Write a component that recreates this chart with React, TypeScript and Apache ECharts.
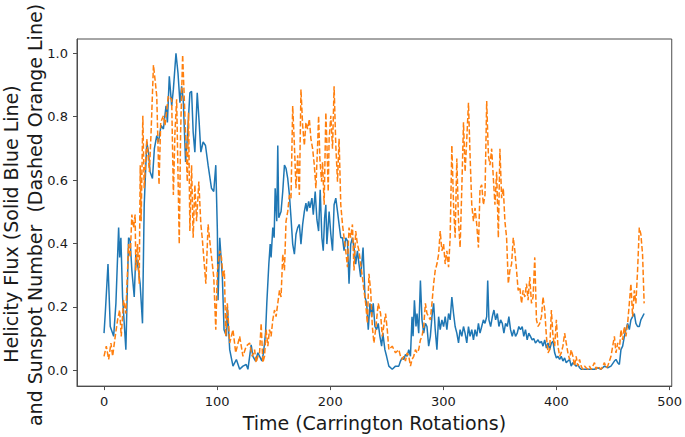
import React, { useEffect, useRef } from "react";
import * as echarts from "echarts";

const xTicks = [0, 100, 200, 300, 400, 500];
const yTicks = [0, 0.2, 0.4, 0.6, 0.8, 1.0];

// Helicity flux (solid blue line): [Carrington rotation, normalized value]
const helicityFlux: [number, number][] = [
  [0,0.117],[1.1,0.18],[3.5,0.335],[5.5,0.138],[8.5,0.107],[10.5,0.211],[12.9,0.45],[13.8,0.356],[14.9,0.418],[16.4,0.231],
  [19.3,0.065],[21.7,0.418],[23.1,0.41],[24.6,0.315],[26.7,0.231],[28.1,0.366],[30.5,0.315],[31.9,0.273],[34.0,0.148],[35.5,0.52],
  [37.8,0.72],[39.3,0.688],[40.7,0.626],[42.8,0.605],[44.5,0.699],[46.6,0.74],[48.1,0.72],[50.4,0.772],[52.5,0.761],[54.8,0.834],
  [56.0,0.782],[57.7,0.927],[59.8,0.834],[61.3,0.886],[63.6,1.0],[65.4,0.937],[67.1,0.844],[68.6,0.896],[70.0,0.855],[72.1,0.657],
  [73.6,0.73],[75.9,0.875],[77.4,0.88],[78.8,0.751],[80.3,0.688],[82.4,0.875],[84.1,0.782],[85.6,0.688],[87.6,0.72],[89.7,0.709],
  [92.0,0.647],[95.0,0.574],[97.0,0.564],[98.8,0.647],[100.2,0.439],[100.8,0.221],[102.3,0.418],[104.6,0.294],[106.1,0.128],[108.2,0.107],
  [109.0,0.2],[111.1,0.065],[114.0,0.013],[117.0,0.034],[119.9,0.003],
  [122.8,0.013],[125.7,0.018],[127.2,0.003],[130.1,0.08],[131.6,0.044],[134.0,0.029],[136.0,0.055],[138.1,0.04],[139.5,0.029],[141.0,0.055],
  [142.8,0.117],[143.9,0.211],[145.7,0.335],[146.9,0.398],[147.7,0.356],[149.2,0.45],[150.4,0.418],[151.3,0.574],[152.7,0.47],[153.6,0.709],
  [154.5,0.481],[156.5,0.501],[158.0,0.564],[159.5,0.647],[160.9,0.637],[162.4,0.605],[163.9,0.553],[165.3,0.481],[166.8,0.398],[168.3,0.366],
  [169.7,0.429],[171.2,0.45],[172.7,0.46],[174.1,0.398],[175.6,0.46],[177.1,0.501],[178.5,0.527],[179.4,0.501],[180.9,0.533],[182.0,0.512],
  [183.8,0.543],[185.0,0.491],[186.7,0.564],[188.2,0.475],[189.7,0.439],[191.1,0.569],[192.6,0.418],[193.8,0.377],[195.0,0.481],[196.1,0.522],
  [197.0,0.398],[198.2,0.46],[199.0,0.501],[200.5,0.429],[202.0,0.377],[203.4,0.522],[204.9,0.543],[206.4,0.501],[207.8,0.46],[209.3,0.418],
  [210.8,0.418],[212.2,0.377],[213.7,0.418],[215.2,0.408],[216.6,0.273],[218.1,0.398],[219.6,0.418],[221.0,0.387],[222.5,0.335],[224.0,0.377],
  [225.4,0.335],[226.9,0.294],[229.0,0.387],[230.7,0.231],[232.2,0.211],[233.6,0.128],[235.1,0.211],[236.6,0.169],[238.0,0.211],[239.5,0.138],
  [241.0,0.128],[242.4,0.148],[243.9,0.107],[245.4,0.076],[246.5,0.117],[248.3,0.065],[249.8,0.044],[251.8,0.013],[254.8,0.003],[257.7,0.013],
  [260.6,0.013],[262.1,0.029],[263.5,0.039],[265.0,0.034],[266.5,0.05],[267.9,0.044],[269.4,0.065],[270.9,0.044],[272.3,0.169],[273.2,0.107],
  [274.4,0.221],[275.8,0.138],[276.7,0.179],[278.2,0.117],[279.7,0.283],[281.1,0.159],[282.6,0.117],[284.1,0.148],[285.5,0.138],[287.0,0.076],
  [288.5,0.107],[289.9,0.169],[291.4,0.211],[292.8,0.128],[294.3,0.065],[295.8,0.169],[297.2,0.128],[298.7,0.159],[300.2,0.138],[301.6,0.169],
  [303.1,0.128],[304.6,0.179],[306.0,0.159],[307.5,0.231],[309.0,0.179],[310.4,0.138],[311.9,0.117],[313.4,0.086],[314.8,0.128],[316.3,0.107],
  [317.8,0.138],[319.2,0.117],[320.7,0.086],[322.2,0.138],[323.6,0.107],[325.1,0.128],[326.6,0.096],[328.0,0.128],[329.5,0.107],[331.0,0.148],
  [332.4,0.117],[333.9,0.138],[335.4,0.159],[336.8,0.148],[338.3,0.169],[339.2,0.283],[340.3,0.159],[341.8,0.138],[343.3,0.169],[344.7,0.19],
  [346.2,0.159],[347.7,0.179],[349.1,0.138],[350.6,0.159],[352.1,0.148],[353.5,0.117],[355.0,0.148],[356.5,0.138],[357.9,0.169],[359.4,0.128],
  [360.9,0.107],[362.3,0.128],[363.8,0.107],[365.3,0.117],[366.7,0.138],[368.2,0.128],[369.7,0.138],[371.1,0.107],[372.6,0.128],[374.1,0.096],
  [375.5,0.117],[377.0,0.107],[378.5,0.096],[379.9,0.1],[381.4,0.086],[383.7,0.096],
  [385.2,0.086],[386.7,0.091],[388.1,0.076],[389.6,0.096],[391.1,0.07],[392.5,0.086],[394.0,0.065],[395.5,0.086],[396.9,0.091],[398.4,0.055],
  [399.9,0.039],[401.3,0.044],[402.8,0.034],[404.2,0.044],[405.7,0.029],[407.2,0.039],[408.6,0.024],[410.1,0.029],[411.6,0.034],[413.0,0.013],
  [414.5,0.024],[416.0,0.018],[417.4,0.013],[418.9,0.018],[420.4,0.008],[421.8,0.003],[424.8,0.003],[427.7,0.003],[430.6,0.003],[433.6,0.003],
  [436.5,0.008],[439.4,0.003],[442.4,0.013],[445.3,0.008],[448.2,0.013],[451.2,0.029],[452.6,0.034],[454.1,0.024],[455.6,0.018],[457.0,0.065],
  [458.5,0.076],[460.0,0.107],[461.4,0.128],[462.9,0.148],[464.4,0.128],[465.8,0.159],[467.3,0.169],[468.8,0.179],[470.2,0.148],[471.7,0.138],
  [473.2,0.138],[474.6,0.159],[476.1,0.169],[477.5,0.179]
];

// Sunspot number (dashed orange line): [Carrington rotation, normalized value]
const sunspotNumber: [number, number][] = [
  [0,0.044],[2.0,0.076],[4.1,0.034],[6.1,0.086],[7.6,0.044],[9.9,0.107],[12.0,0.159],[13.8,0.19],[15.2,0.107],[17.3,0.221],
  [19.3,0.179],[21.7,0.398],[23.1,0.356],[24.6,0.491],[26.1,0.45],[27.5,0.491],[28.1,0.315],[29.6,0.398],[31.1,0.273],[32.0,0.647],
  [32.8,0.47],[34.3,0.803],[35.5,0.574],[37.8,0.73],[40.1,0.626],[41.6,0.751],[43.7,0.963],[45.1,0.917],[46.6,0.865],[48.6,0.585],
  [50.1,0.782],[52.5,0.803],[53.9,0.772],[56.8,0.865],[59.8,0.855],[61.3,0.553],[62.7,0.751],[64.2,0.855],[66.5,0.398],[67.7,0.751],
  [69.5,0.995],[71.5,0.803],[73.6,0.595],[74.7,0.813],[75.9,0.439],[77.4,0.647],[78.8,0.418],[80.3,0.585],[81.8,0.47],[83.8,0.595],
  [85.6,0.46],[86.8,0.418],[90.0,0.273],[92.0,0.46],[94.4,0.377],[97.0,0.294],[98.8,0.128],[100.2,0.315],[102.3,0.377],[103.8,0.356],
  [105.2,0.294],[106.4,0.315],[107.6,0.107],[109.0,0.211],[111.1,0.086],[114.0,0.128],[116.4,0.055],[119.9,0.107],[122.8,0.044],[125.7,0.076],
  [128.7,0.086],[131.0,0.044],[133.1,0.065],[134.5,0.024],[136.0,0.044],[137.5,0.055],[138.9,0.148],[140.4,0.024],[141.9,0.044],[143.3,0.128],
  [144.8,0.076],[146.3,0.128],[147.7,0.107],[149.2,0.159],[150.7,0.19],[152.1,0.169],[153.6,0.211],[155.1,0.252],[156.5,0.231],[158.0,0.366],
  [159.5,0.315],[160.9,0.47],[162.4,0.501],[163.9,0.553],[165.3,0.543],[166.8,0.834],[168.3,0.709],[169.7,0.574],[171.2,0.678],[172.7,0.553],
  [174.1,0.886],[175.6,0.772],[177.1,0.709],[178.5,0.782],[180.0,0.761],[181.5,0.792],[182.9,0.73],[184.4,0.699],[185.9,0.647],[187.3,0.574],
  [188.8,0.709],[189.7,0.803],[190.8,0.668],[192.3,0.595],[193.2,0.657],[194.6,0.522],[196.1,0.813],[197.0,0.72],[198.2,0.564],[199.0,0.73],
  [200.5,0.803],[202.0,0.699],[203.4,0.896],[204.9,0.709],[206.4,0.595],[207.8,0.73],[209.3,0.522],[210.8,0.46],[212.2,0.418],[213.7,0.377],
  [215.2,0.325],[216.6,0.45],[218.1,0.418],[219.6,0.46],[221.0,0.315],[222.5,0.439],[224.0,0.398],[225.4,0.377],[226.9,0.335],[228.4,0.294],
  [229.8,0.252],[231.3,0.211],[232.8,0.148],[234.2,0.304],[235.7,0.252],[237.2,0.138],[238.6,0.086],[240.1,0.128],[242.4,0.211],[244.5,0.179],
  [246.0,0.107],[248.9,0.179],[250.4,0.128],[251.8,0.065],[254.8,0.076],[257.7,0.055],
  [260.6,0.065],[262.1,0.044],[263.5,0.034],[265.0,0.044],[266.5,0.029],[267.9,0.055],[269.4,0.044],[270.9,0.013],[272.3,0.034],[273.8,0.044],
  [275.3,0.065],[276.7,0.055],[278.2,0.065],[279.7,0.096],[281.1,0.107],[282.6,0.138],[284.1,0.211],[285.5,0.179],[287.0,0.169],[288.5,0.159],
  [289.9,0.211],[291.4,0.273],[292.8,0.315],[294.3,0.335],[295.8,0.366],[297.2,0.439],[298.7,0.377],[300.2,0.398],[301.6,0.335],[303.1,0.377],
  [304.6,0.325],[306.0,0.418],[307.5,0.709],[309.0,0.522],[310.4,0.418],[311.9,0.668],[313.4,0.47],[314.8,0.387],[316.3,0.574],[317.8,0.782],
  [319.2,0.626],[320.7,0.73],[322.2,0.844],[323.6,0.678],[325.1,0.522],[326.6,0.47],[328.0,0.512],[329.5,0.46],[331.0,0.387],[332.4,0.574],
  [333.9,0.585],[335.4,0.522],[336.8,0.553],[338.3,0.849],[339.8,0.678],[341.2,0.647],[342.7,0.699],[344.2,0.605],[345.6,0.522],[347.1,0.626],
  [348.6,0.418],[350.0,0.699],[351.5,0.543],[353.0,0.574],[354.4,0.47],[355.9,0.418],[357.4,0.273],[358.8,0.315],[360.3,0.335],[361.8,0.418],
  [363.2,0.377],[364.7,0.315],[366.1,0.252],[367.6,0.262],[369.1,0.211],[370.5,0.252],[372.0,0.231],[373.5,0.273],[374.9,0.221],[376.4,0.294],
  [377.9,0.211],[379.3,0.231],[380.8,0.356],[382.3,0.159],
  [383.7,0.138],[385.2,0.148],[386.7,0.169],[388.1,0.231],[389.6,0.19],[391.1,0.107],[392.5,0.055],[394.0,0.065],[395.5,0.19],[396.9,0.107],
  [398.4,0.076],[399.9,0.159],[401.3,0.076],[402.8,0.044],[404.2,0.055],[405.7,0.076],[407.2,0.117],[408.6,0.086],[410.1,0.055],[411.6,0.034],
  [413.0,0.065],[414.5,0.044],[416.0,0.013],[417.4,0.044],[418.9,0.013],[420.4,0.034],[421.8,0.013],[423.3,0.003],[424.8,0.013],[426.2,0.008],
  [427.7,0.003],[429.2,0.013],[430.6,0.003],[432.1,0.013],[433.6,0.024],[435.0,0.003],[436.5,0.013],[438.0,0.008],[439.4,0.003],[440.9,0.013],
  [442.4,0.024],[443.8,0.008],[445.3,0.013],[446.8,0.029],[448.2,0.044],[449.7,0.076],[451.2,0.107],[452.6,0.055],[454.1,0.086],[455.6,0.065],
  [457.0,0.128],[458.5,0.096],[460.0,0.138],[461.4,0.107],[462.9,0.148],[464.4,0.211],[465.8,0.273],[467.3,0.169],[468.8,0.252],[470.2,0.211],
  [471.7,0.315],[473.2,0.45],[474.6,0.429],[476.1,0.366],[477.5,0.211]
];

const yTitleLines = ["Helicity Flux (Solid Blue Line)", "and Sunspot Number  (Dashed Orange Line)"];
const xTitle = "Time (Carrington Rotations)";

const FONT = "DejaVu Sans";
const AXIS_COLOR = "#4d4d4d";
const TEXT_COLOR = "#1a1a1a";

export default function App() {
  const ref = useRef<HTMLDivElement>(null);

  useEffect(() => {
    if (!ref.current) return;
    const chart = echarts.init(ref.current, null, { renderer: "svg" });
    chart.setOption({
      animation: false,
      backgroundColor: "#ffffff",
      grid: {
        left: 77,
        top: 39,
        right: 11,
        bottom: 46.5,
        show: true,
        borderColor: AXIS_COLOR,
        borderWidth: 1,
        backgroundColor: "transparent",
      },
      xAxis: {
        type: "value",
        min: -23.9,
        max: 501.9,
        splitLine: { show: false },
        axisLine: { show: true, onZero: false, lineStyle: { color: AXIS_COLOR, width: 1 } },
        axisTick: { show: true, customValues: xTicks, length: 4, lineStyle: { color: AXIS_COLOR } },
        axisLabel: {
          customValues: xTicks,
          fontSize: 13,
          fontFamily: FONT,
          color: TEXT_COLOR,
          margin: 9,
        },
        name: xTitle,
        nameLocation: "middle",
        nameGap: 25,
        nameTextStyle: { fontSize: 19, fontFamily: FONT, color: TEXT_COLOR },
      },
      yAxis: {
        type: "value",
        min: -0.05,
        max: 1.045,
        splitLine: { show: false },
        axisLine: { show: true, onZero: false, lineStyle: { color: AXIS_COLOR, width: 1 } },
        axisTick: { show: true, customValues: yTicks, length: 4, lineStyle: { color: AXIS_COLOR } },
        axisLabel: {
          customValues: yTicks,
          fontSize: 13,
          fontFamily: FONT,
          color: TEXT_COLOR,
          margin: 9,
          formatter: (v: number) => v.toFixed(1),
        },
      },
      graphic: [
        {
          type: "text",
          x: 11,
          y: 224,
          rotation: Math.PI / 2,
          style: {
            text: yTitleLines[0],
            fontSize: 19,
            fontFamily: FONT,
            fill: TEXT_COLOR,
            align: "center",
            verticalAlign: "middle",
          },
        },
        {
          type: "text",
          x: 35,
          y: 215,
          rotation: Math.PI / 2,
          style: {
            text: yTitleLines[1],
            fontSize: 19,
            fontFamily: FONT,
            fill: TEXT_COLOR,
            align: "center",
            verticalAlign: "middle",
          },
        },
      ],
      series: [
        {
          name: "Helicity Flux",
          type: "line",
          data: helicityFlux,
          showSymbol: false,
          symbol: "none",
          lineStyle: { color: "#1f77b4", width: 1.5 },
          z: 2,
        },
        {
          name: "Sunspot Number",
          type: "line",
          data: sunspotNumber,
          showSymbol: false,
          symbol: "none",
          lineStyle: { color: "#ff7f0e", width: 1.5, type: [5.5, 2.4] },
          z: 3,
        },
      ],
    });
    return () => chart.dispose();
  }, []);

  return (
    <div
      ref={ref}
      style={{ position: "absolute", left: 0, top: 0, width: 685, height: 437 }}
    />
  );
}
